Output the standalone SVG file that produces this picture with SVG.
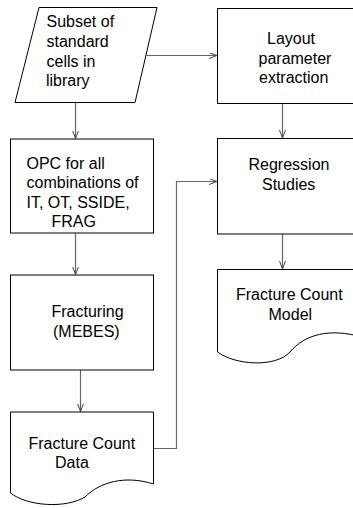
<svg xmlns="http://www.w3.org/2000/svg" width="353" height="508" viewBox="0 0 353 508">
<defs>
<marker id="arr" markerWidth="10" markerHeight="8" refX="8" refY="3" orient="auto" markerUnits="userSpaceOnUse">
<path d="M0,0 L8,3 L0,6" fill="none" stroke="#444" stroke-width="1"/>
</marker>
<style>
.box{fill:#fff;stroke:#000;stroke-width:1}
.conn{fill:none;stroke:#666;stroke-width:1.2}
text{font-family:"Liberation Sans",Arial,sans-serif;font-size:16px;fill:#000}
</style>
</defs>
<rect width="353" height="508" fill="#fff"/>
<g id="connectors">
<path class="conn" d="M146.5,55.5 H217" marker-end="url(#arr)"/>
<path class="conn" d="M75.5,102.5 V138.5" marker-end="url(#arr)"/>
<path class="conn" d="M75.5,233 V274.5" marker-end="url(#arr)"/>
<path class="conn" d="M80.5,370 V411.5" marker-end="url(#arr)"/>
<path class="conn" d="M153,448.5 H176.5 V181.5 H217" marker-end="url(#arr)"/>
<path class="conn" d="M282.5,103.5 V138" marker-end="url(#arr)"/>
<path class="conn" d="M282.5,234 V269" marker-end="url(#arr)"/>
</g>
<g id="subset">
<polygon class="box" points="39,7.5 157,7.5 135,102.5 15,102.5"/>
<text x="46.5" y="27">Subset of</text>
<text x="46.5" y="47">standard</text>
<text x="46.5" y="66.5">cells in</text>
<text x="46" y="86">library</text>
</g>
<g id="opc">
<rect class="box" x="10.5" y="139" width="143" height="94"/>
<text x="26.5" y="168.5">OPC for all</text>
<text x="26.5" y="188">combinations of</text>
<text x="26.5" y="207.5">IT, OT, SSIDE,</text>
<text x="51.5" y="227">FRAG</text>
</g>
<g id="fracturing">
<rect class="box" x="10.5" y="275" width="143" height="95"/>
<text x="51.5" y="316.5">Fracturing</text>
<text x="53" y="337">(MEBES)</text>
</g>
<g id="data">
<path class="box" d="M10.5,493 V412 H153.5 V484 C125,475 100,482 85,497 C65,509 27,506 10.5,493 Z"/>
<text x="28.5" y="448.5">Fracture Count</text>
<text x="55" y="468">Data</text>
</g>
<g id="layout">
<rect class="box" x="217.5" y="8.5" width="145" height="95"/>
<text x="267" y="44">Layout</text>
<text x="258.5" y="63.5">parameter</text>
<text x="259" y="83">extraction</text>
</g>
<g id="regression">
<rect class="box" x="217.5" y="138.5" width="145" height="95.5"/>
<text x="248.5" y="170">Regression</text>
<text x="262" y="190">Studies</text>
</g>
<g id="model">
<path class="box" d="M217.5,352 V269.5 H362 V337 C330,328 305,334 290,352 C275,368 235,365 217.5,352 Z"/>
<text x="236" y="300">Fracture Count</text>
<text x="268.5" y="320">Model</text>
</g>
</svg>
